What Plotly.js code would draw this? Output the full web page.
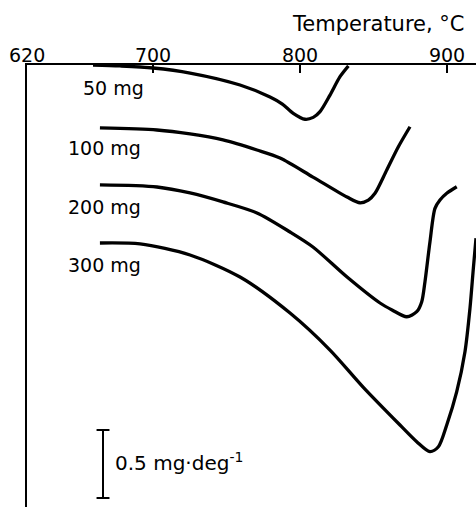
<!DOCTYPE html>
<html>
<head>
<meta charset="utf-8">
<script src="https://cdn.plot.ly/plotly-3.0.1.min.js"></script>
<style>
  html, body { margin: 0; padding: 0; background: #fff; }
  #chart { width: 476px; height: 507px; }
</style>
</head>
<body>
<div id="chart"></div>
<script>
// Temperature (°C) and displaced DTG signal (mg·deg^-1, downward = larger)
const t50  = [659.2, 677.6, 700.0, 725.2, 759.2, 779.6, 788.0, 795.4, 803.4, 809.0, 813.6, 820.4, 827.2, 832.9];
const y50  = [0.000, 0.007, 0.022, 0.059, 0.147, 0.235, 0.287, 0.355, 0.399, 0.385, 0.343, 0.221, 0.086, 0.007];

const t100 = [663.9, 702.7, 725.2, 747.6, 770.7, 786.4, 808.8, 832.0, 840.8, 846.5, 851.0, 859.0, 866.9, 874.8];
const y100 = [0.463, 0.478, 0.507, 0.551, 0.625, 0.684, 0.824, 0.971, 1.013, 0.993, 0.943, 0.772, 0.601, 0.454];

const t200 = [663.9, 702.7, 725.2, 747.6, 770.7, 793.2, 808.8, 832.0, 854.4, 862.6, 872.6, 879.4, 882.8, 885.0, 888.4, 891.8, 895.2, 899.8, 906.6];
const y200 = [0.882, 0.897, 0.941, 1.007, 1.088, 1.228, 1.338, 1.559, 1.750, 1.801, 1.851, 1.814, 1.740, 1.593, 1.299, 1.054, 0.993, 0.943, 0.895];

const t300 = [663.9, 691.2, 725.2, 759.2, 793.2, 820.4, 842.9, 868.0, 879.4, 888.4, 894.1, 899.8, 906.6, 912.2, 915.6, 917.9, 919.7];
const y300 = [1.309, 1.316, 1.397, 1.559, 1.824, 2.096, 2.368, 2.647, 2.770, 2.843, 2.807, 2.647, 2.402, 2.108, 1.789, 1.495, 1.274];

const seriesLabels = ["50 mg", "100 mg", "200 mg", "300 mg"];
const tickVals = [700, 800, 900];
const tickText = ["700", "800", "900"];
const firstTickLabel = "620";
const axisTitle = "Temperature, °C";
const scaleLabel = "0.5 mg·deg<sup>-1</sup>";
const scaleLength = 0.5;     // mg·deg^-1
const scaleStart = 2.684;
const scaleT = 666;

const FONT = "DejaVu Sans";
const W = 476, H = 507, L = 27, T = 65;
const pw = W - L, ph = H - T;
const px = x => (x - L) / pw;
const py = y => 1 - (y - T) / ph;

const mk = (x, y) => ({
  x: x, y: y, type: "scatter", mode: "lines",
  line: { color: "#000", width: 3.3, shape: "spline", smoothing: 0.8 },
  hoverinfo: "skip", showlegend: false
});

const data = [mk(t50, y50), mk(t100, y100), mk(t200, y200), mk(t300, y300)];

const labelPos = [[146, 88], [143, 148], [143, 207], [143, 265]];
const annotations = seriesLabels.map((s, i) => ({
  text: s, xref: "paper", yref: "paper",
  x: px(labelPos[i][0]), y: py(labelPos[i][1]),
  xanchor: "right", yanchor: "middle", showarrow: false,
  font: { family: FONT, size: 19, color: "#000" }
}));
annotations.push({
  text: firstTickLabel, xref: "paper", yref: "paper",
  x: px(27), y: py(55), xanchor: "center", yanchor: "middle", showarrow: false,
  font: { family: FONT, size: 19, color: "#000" }
});
annotations.push({
  text: axisTitle, xref: "paper", yref: "paper",
  x: px(467), y: py(24), xanchor: "right", yanchor: "middle", showarrow: false,
  font: { family: FONT, size: 21, color: "#000" }
});
annotations.push({
  text: scaleLabel, xref: "paper", yref: "paper",
  x: px(113), y: py(462), xanchor: "left", yanchor: "middle", showarrow: false,
  font: { family: FONT, size: 20, color: "#000" }
});

const shapes = [
  { type: "line", xref: "x", yref: "y", x0: scaleT, x1: scaleT, y0: scaleStart, y1: scaleStart + scaleLength, line: { color: "#000", width: 2 } },
  { type: "line", xref: "x", yref: "y", x0: scaleT - 4.4, x1: scaleT + 4.4, y0: scaleStart, y1: scaleStart, line: { color: "#000", width: 2 } },
  { type: "line", xref: "x", yref: "y", x0: scaleT - 4.4, x1: scaleT + 4.4, y0: scaleStart + scaleLength, y1: scaleStart + scaleLength, line: { color: "#000", width: 2 } }
];

const layout = {
  width: W, height: H,
  margin: { l: L, r: 0, t: T, b: 0, pad: 0 },
  paper_bgcolor: "#fff", plot_bgcolor: "#fff",
  font: { family: FONT, color: "#000" },
  xaxis: {
    range: [614.3, 919.7], side: "top",
    showline: true, linecolor: "#000", linewidth: 2,
    showgrid: false, zeroline: false,
    ticks: "inside", ticklen: 8, tickwidth: 1.6, tickcolor: "#000",
    tickvals: tickVals, ticktext: tickText,
    ticklabelstandoff: -7,
    tickfont: { family: FONT, size: 19, color: "#000" },
    fixedrange: true
  },
  yaxis: {
    range: [3.25, 0],
    showline: true, linecolor: "#000", linewidth: 2,
    showgrid: false, zeroline: false, showticklabels: false, ticks: "",
    fixedrange: true
  },
  annotations: annotations,
  shapes: shapes
};

Plotly.newPlot("chart", data, layout, { staticPlot: true, displayModeBar: false });
</script>
</body>
</html>
